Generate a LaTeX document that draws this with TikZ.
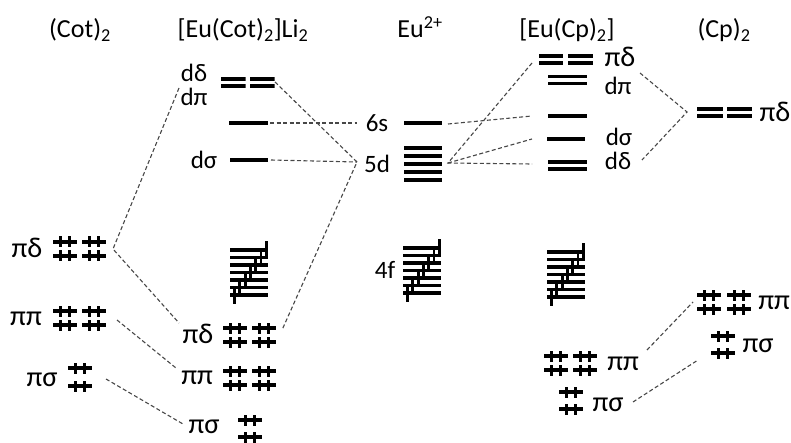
\documentclass[tikz,border=0pt]{standalone}
\usepackage{fontspec}
\setmainfont{Carlito}
\newcommand\fblk[2]{%
  \foreach \i in {0,...,6}{%
    \fill ({#1},{#2-7.5*\i-1.6}) rectangle ({#1+38},{#2-7.5*\i+1.6});
    \fill ({#1+4.5+5.3*\i-1.4},{#2-7.5*\i+9}) rectangle ({#1+4.5+5.3*\i+1.4},{#2-7.5*\i-9});
  }}
\begin{document}
\begin{tikzpicture}[x=1pt,y=-1pt,
  bar/.style={rectangle, fill=black, inner sep=0pt, minimum height=3.6pt, minimum width=#1},
  bar/.default=38pt,
  dbar/.style={rectangle, inner sep=0pt, minimum height=10.6pt, minimum width=#1, path picture={
     \fill (path picture bounding box.north west) rectangle ([yshift=-3.6pt]path picture bounding box.north east);
     \fill (path picture bounding box.south west) rectangle ([yshift=3.6pt]path picture bounding box.south east);}},
  dbar/.default=38pt,
  ep/.style={rectangle, inner sep=0pt, minimum width=24pt, minimum height=11pt, path picture={
     \fill ([yshift=-1.7pt]path picture bounding box.west) rectangle ([yshift=1.7pt]path picture bounding box.east);
     \fill ([xshift=-6.3pt]path picture bounding box.south) rectangle ([xshift=-3.1pt]path picture bounding box.north);
     \fill ([xshift=3.1pt]path picture bounding box.south) rectangle ([xshift=6.3pt]path picture bounding box.north);}},
  grp/.style={rectangle, inner sep=0pt, minimum width=38pt, minimum height=35.4pt},
  head/.style={inner sep=0pt, anchor=base, font=\fontsize{26}{30}\selectfont},
  plab/.style={inner sep=0pt, font=\fontsize{28.5}{32}\selectfont},
  dlab/.style={inner sep=0pt, font=\fontsize{25}{29}\selectfont},
  conn/.style={draw=black!72, line width=1.1pt, dash pattern=on 4pt off 2.5pt},
]
\useasboundingbox (0,0) rectangle (791,443);

% headings
\node[head] (hcot) at (80,38) {(Cot)\textsubscript{2}};
\node[head] (heucot) at (243,38) {[Eu(Cot)\textsubscript{2}]Li\textsubscript{2}};
\node[head] (heu) at (420,38) {Eu\textsuperscript{2+}};
\node[head] (heucp) at (567,38) {[Eu(Cp)\textsubscript{2}]};
\node[head] (hcp) at (724,38) {(Cp)\textsubscript{2}};

% (Cot)2
\node[plab] (cotpdL) at (27,248) {πδ};
\node[ep] (cotpd1) at (65,242) {}; \node[ep] (cotpd2) at (94,242) {};
\node[ep] (cotpd3) at (65,256) {}; \node[ep] (cotpd4) at (94,256) {};
\node[plab] (cotppL) at (26,319) {ππ};
\node[ep] (cotpp1) at (65,311) {}; \node[ep] (cotpp2) at (94,311) {};
\node[ep] (cotpp3) at (65,325) {}; \node[ep] (cotpp4) at (94,325) {};
\node[plab] (cotpsL) at (42,380) {πσ};
\node[ep] (cotps1) at (80,368) {}; \node[ep] (cotps2) at (80,386) {};

% [Eu(Cot)2]Li2
\node[dlab] (c2ddL) at (194,73) {dδ};
\node[dlab] (c2dpL) at (194,97) {dπ};
\node[dbar=25pt] (c2dd1) at (233,82.5) {};
\node[dbar=25pt] (c2dd2) at (262,82.5) {};
\node[bar=39pt] (c26s) at (248,123) {};
\node[dlab] (c2dsL) at (204,160) {dσ};
\node[bar=38pt] (c2ds) at (249,160) {};
\fblk{230}{295}
\node[plab] (c2pdL) at (198,334) {πδ};
\node[ep] (c2pd1) at (235,328) {}; \node[ep] (c2pd2) at (264,328) {};
\node[ep] (c2pd3) at (235,342) {}; \node[ep] (c2pd4) at (264,342) {};
\node[plab] (c2ppL) at (197,378) {ππ};
\node[ep] (c2pp1) at (235,371) {}; \node[ep] (c2pp2) at (264,371) {};
\node[ep] (c2pp3) at (235,385) {}; \node[ep] (c2pp4) at (264,385) {};
\node[plab] (c2psL) at (204,427) {πσ};
\node[ep] (c2ps1) at (250,420) {}; \node[ep] (c2ps2) at (250,437) {};

% Eu2+
\node[dlab] (eu6sL) at (377,123) {6s};
\node[bar=38pt] (eu6s) at (423,123) {};
\node[dlab] (eu5dL) at (377,164) {5d};
\node[grp] (eu5d) at (423,164) {};
\foreach \k in {0,...,4} \fill (404,{148+8*\k-1.8}) rectangle (442,{148+8*\k+1.8});
\node[dlab] (eu4fL) at (385,270) {4f};
\fblk{403}{293}

% [Eu(Cp)2]
\node[dbar=24pt] (c4pd1) at (551,59.5) {};
\node[dbar=25pt] (c4pd2) at (580.5,59.5) {};
\node[plab] (c4pdL) at (620,57) {πδ};
\node[dbar=39pt] (c4dp) at (567.5,80) {};
\node[dlab] (c4dpL) at (618,86) {dπ};
\node[bar=39pt] (c46s) at (567.5,116) {};
\node[bar=38pt] (c4ds) at (566,139) {};
\node[dlab] (c4dsL) at (619,137) {dσ};
\node[dbar=39pt] (c4dd) at (567.5,165.5) {};
\node[dlab] (c4ddL) at (618,161) {dδ};
\fblk{547}{297}
\node[ep] (c4pp1) at (556,356) {}; \node[ep] (c4pp2) at (585,356) {};
\node[ep] (c4pp3) at (556,370) {}; \node[ep] (c4pp4) at (585,370) {};
\node[plab] (c4ppL) at (623,364) {ππ};
\node[ep] (c4ps1) at (571,392) {}; \node[ep] (c4ps2) at (571,409) {};
\node[plab] (c4psL) at (608,405) {πσ};

% (Cp)2
\node[dbar=26pt] (cppd1) at (710,112.5) {};
\node[dbar=25pt] (cppd2) at (739.5,112.5) {};
\node[plab] (cppdL) at (775,112) {πδ};
\node[ep] (cppp1) at (709,295) {}; \node[ep] (cppp2) at (739,295) {};
\node[ep] (cppp3) at (709,309) {}; \node[ep] (cppp4) at (739,309) {};
\node[plab] (cpppL) at (774,303) {ππ};
\node[ep] (cpps1) at (723,336) {}; \node[ep] (cpps2) at (723,353) {};
\node[plab] (cppsL) at (758,346) {πσ};

% connector ends
\coordinate (cotpdR) at (113,249);
\coordinate (cotppR) at (117,320);
\coordinate (cotpsR) at (106,379);
\coordinate (c2top) at (179,88);
\coordinate (c2pdW) at (179,323);
\coordinate (c2ppW) at (176,368);
\coordinate (c2psW) at (183,424);
\coordinate (c2ddE) at (275,82);
\coordinate (c26sE) at (270,123);
\coordinate (c2dsE) at (271,160);
\coordinate (eu6sW) at (357,123);
\coordinate (eu5dW) at (357,162);
\coordinate (c2pdE) at (282,330);
\coordinate (eu6sE) at (448,124);
\coordinate (eu5dE) at (448,163);
\coordinate (c4pdW) at (532,63);
\coordinate (c46sW) at (532,116);
\coordinate (c4dsW) at (532,139);
\coordinate (c4ddW) at (532,164);
\coordinate (c4dpE) at (640,73);
\coordinate (c4ddE) at (642,160);
\coordinate (cppdW) at (687,112);
\coordinate (c4ppE) at (647,350);
\coordinate (c4psE) at (633,402);
\coordinate (cpppW) at (693,302);
\coordinate (cppsW) at (698,360);

\draw[conn] (c2top) -- (cotpdR) -- (c2pdW);
\draw[conn] (cotppR) -- (c2ppW);
\draw[conn] (cotpsR) -- (c2psW);
\draw[conn] (c2ddE) -- (eu5dW) -- (c2pdE);
\draw[conn] (c26sE) -- (eu6sW);
\draw[conn] (c2dsE) -- (eu5dW);
\draw[conn] (eu6sE) -- (c46sW);
\draw[conn] (c4pdW) -- (eu5dE) -- (c4ddW);
\draw[conn] (eu5dE) -- (c4dsW);
\draw[conn] (c4dpE) -- (cppdW) -- (c4ddE);
\draw[conn] (c4ppE) -- (cpppW);
\draw[conn] (c4psE) -- (cppsW);
\end{tikzpicture}
\end{document}
